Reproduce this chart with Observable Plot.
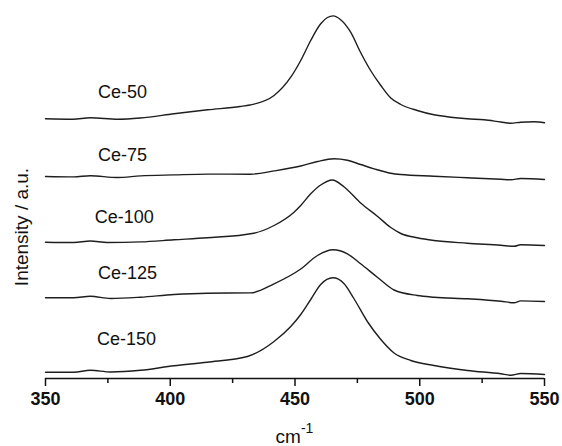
<!DOCTYPE html>
<html><head><meta charset="utf-8">
<script src="https://cdn.jsdelivr.net/npm/d3@7"></script>
<script src="https://cdn.jsdelivr.net/npm/@observablehq/plot@0.6"></script>
<style>body{margin:0;background:#fff}</style>
</head><body><div id="chart"></div>
<script>
const sampleNames = ["Ce-50", "Ce-75", "Ce-100", "Ce-125", "Ce-150"];

const wave50 = [350, 361, 368, 379, 388, 401.5, 415, 428, 432, 441.6, 448.3, 452.3, 456.3, 460.3, 463, 465.3, 468.3, 472.3, 476.3, 480.3, 484.4, 488.4, 492.4, 499, 505.7, 512.4, 519, 525.8, 532.5, 536.5, 540.5, 545.8, 550];
const int50 = [259.7, 259.3, 260.8, 259.3, 260.5, 264.7, 268.7, 272, 273.5, 283, 301.3, 318, 338, 354.7, 361, 362.6, 358.7, 346.3, 326, 308, 293, 280.5, 274, 268, 263.7, 261.3, 259.7, 258.7, 256.5, 255.3, 256.3, 256.8, 255.7];

const wave75 = [350, 361.3, 368, 378.8, 388.1, 401.5, 414.8, 432.2, 441.6, 452.3, 459, 465.6, 471, 476.3, 481.7, 488.4, 492.4, 505.7, 519.1, 532.5, 536.5, 540.5, 550];
const int75 = [202, 201.6, 202.8, 201, 202.6, 203.6, 204.4, 204.3, 207.6, 212.5, 217, 219.7, 218.2, 214, 209.7, 205.3, 204, 202.3, 200.7, 199.2, 198.8, 200, 199];

const wave100 = [350, 361.3, 368, 374.7, 388.1, 401.5, 414.8, 433.5, 441.6, 449.6, 452.3, 456.3, 460.3, 465, 469.6, 476.3, 483, 488.4, 492.4, 499, 505.7, 519, 532.5, 537.8, 540.5, 550];
const int100 = [136.3, 136, 137.5, 136, 136.6, 138.7, 140.7, 145.3, 153, 166.3, 173, 184.7, 193.5, 198.5, 191.8, 175.5, 162.3, 151, 145, 140.7, 138, 135.3, 133.2, 132.2, 133.8, 133];

const wave125 = [350, 361.3, 368, 376.1, 388.1, 401.5, 414.8, 432.2, 441.6, 452.3, 459, 465.2, 471, 476.3, 483, 489.7, 499, 505.7, 519.1, 532.5, 537.8, 540.5, 550];
const int125 = [80.7, 80.7, 82.3, 80, 81.3, 84, 85.3, 85.6, 94.7, 109.5, 123, 128.7, 124.7, 114.7, 101.3, 88.5, 83, 81.3, 79.7, 77.3, 75.8, 77.6, 77];

const wave150 = [350, 361.3, 368, 376.1, 388.1, 401.5, 414.8, 430.9, 441.6, 448.3, 452.3, 456.3, 460.3, 465.2, 469.6, 473.6, 479, 484.4, 489.7, 496.4, 505.7, 519.1, 532.5, 536.5, 540.5, 550];
const int150 = [6.3, 6.3, 8.2, 6.5, 8.2, 12.8, 16.3, 22, 37, 52, 64, 79, 94, 100.7, 95, 80, 57, 39, 25.5, 18, 13, 8, 4.7, 3.3, 5, 4];

const labelWave = [380.9, 380.9, 381.6, 382.9, 382.5];
const labelIntensity = [286.5, 223, 161.3, 105.3, 39.3];

const majorTicks = [350, 400, 450, 500, 550];
const minorTicks = [375, 425, 475, 525];

const waves = [wave50, wave75, wave100, wave125, wave150];
const ints = [int50, int75, int100, int125, int150];
const rows = sampleNames.flatMap((s, i) => waves[i].map((w, j) => ({sample: s, wave: w, intensity: ints[i][j]})));
const labels = sampleNames.map((s, i) => ({sample: s, wave: labelWave[i], intensity: labelIntensity[i]}));

const font = "'Liberation Sans', Arial, Helvetica, sans-serif";

const plot = Plot.plot({
  width: 562,
  height: 446,
  marginLeft: 45,
  marginRight: 18,
  marginTop: 0,
  marginBottom: 68,
  style: {fontFamily: font, color: "#111", background: "#fff"},
  x: {domain: [350, 550]},
  y: {domain: [0, 378], axis: null},
  marks: [
    Plot.line(rows, {x: "wave", y: "intensity", z: "sample", stroke: "#1e1e1e", strokeWidth: 1.4, curve: "monotone-x"}),
    Plot.ruleY([0], {stroke: "#111", strokeWidth: 1.5}),
    Plot.axisX({ticks: majorTicks, tickSize: 8, tickPadding: 6, fontSize: 18, fontWeight: "bold", label: null, strokeWidth: 1.5}),
    Plot.axisX({ticks: minorTicks, tickSize: 5, text: null, label: null, strokeWidth: 1.5}),
    Plot.text(labels, {x: "wave", y: "intensity", text: "sample", fontSize: 18, fill: "#111"})
  ]
});

const svg = d3.select(plot);
const xs = plot.scale("x");
const ys = plot.scale("y");

const xl = svg.append("text")
  .attr("x", xs.apply(450))
  .attr("y", 443)
  .attr("text-anchor", "middle")
  .attr("font-size", 19)
  .attr("font-family", font)
  .attr("fill", "#111");
xl.append("tspan").text("cm");
xl.append("tspan").attr("dy", -10).attr("font-size", 14).text("-1");

svg.append("text")
  .attr("transform", `translate(21,${ys.apply(151)}) rotate(-90)`)
  .attr("text-anchor", "middle")
  .attr("dy", "0.35em")
  .attr("font-size", 19)
  .attr("font-family", font)
  .attr("fill", "#111")
  .text("Intensity / a.u.");

document.getElementById("chart").appendChild(plot);
</script>
</body></html>
